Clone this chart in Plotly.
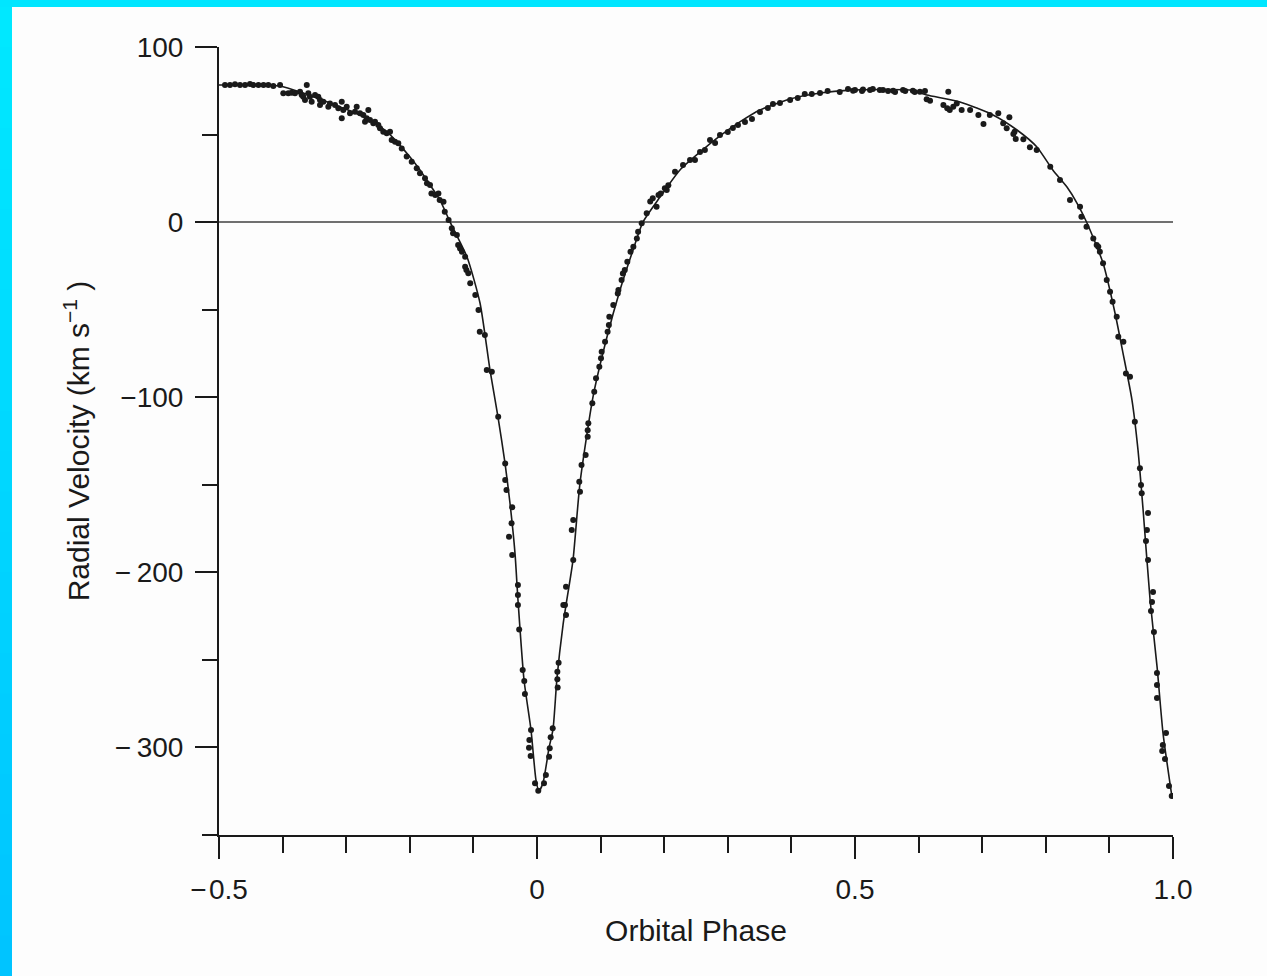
import plotly.graph_objects as go

# ---------------- data ----------------
x_tick_vals = [-0.5, 0.0, 0.5, 1.0]
x_tick_labels = ["\u2212\u200a0.5", "0", "0.5", "1.0"]
y_tick_vals = [100, 0, -100, -200, -300]
y_tick_labels = ["100", "0", "\u2212100", "\u2212\u2009200", "\u2212\u2009300"]

# fitted orbit curve
phase_fit = [-0.5, -0.451, -0.404, -0.368, -0.3255, -0.2893, -0.2626, -0.2358, -0.220,
             -0.1997, -0.184, -0.1682, -0.1525, -0.1368, -0.110, -0.0896, -0.0739,
             -0.0613, -0.0503, -0.0425, -0.0346, -0.0299, -0.0204, -0.0094, -0.0016,
             0.0031, 0.0094, 0.0189, 0.0252, 0.0314, 0.0409, 0.0456, 0.0566, 0.0676,
             0.088, 0.110, 0.1305, 0.151, 0.1667, 0.1934, 0.2248, 0.2563, 0.2877, 0.319,
             0.3506, 0.398, 0.445, 0.4921, 0.539, 0.5865, 0.613, 0.665, 0.717, 0.7547,
             0.786, 0.811, 0.8333, 0.849, 0.8648, 0.890, 0.9088, 0.9214, 0.9355, 0.945,
             0.953, 0.964, 0.975, 0.9843, 0.9984]
vel_fit = [78.3, 78.3, 77.7, 73.7, 68.0, 62.9, 58.3, 51.5, 45.7,
           37.2, 29.8, 21.2, 12.6, 0.1, -19.9, -46.2, -84.5,
           -111.3, -137.6, -160.4, -189.0, -215.8, -261.5, -290.1, -318.6,
           -324.9, -320.3, -300.3, -289.5, -260.4, -230.1, -218.7, -193.0, -149.0,
           -99.9, -65.6, -38.8, -15.9, 0.1, 14.3, 29.8, 40.0, 49.2, 57.2,
           64.0, 70.3, 73.7, 75.4, 75.7, 75.4, 72.6, 68.6, 61.2, 52.6,
           42.9, 29.8, 20.0, 10.9, -0.5, -23.4, -51.9, -74.8, -101.6, -130.2,
           -164.4, -215.8, -254.1, -291.8, -328.3]

# observed radial velocities
phase_obs = [
    # left plateau
    -0.4906, -0.4827, -0.4748, -0.467, -0.459, -0.4513, -0.446, -0.438, -0.430,
    -0.4225, -0.4146, -0.404,
    -0.3989, -0.391, -0.3857, -0.3805, -0.3726, -0.370, -0.3675, -0.362, -0.3648,
    -0.3596, -0.357, -0.3543, -0.349, -0.3439, -0.3412, -0.3412, -0.336, -0.3281,
    -0.3255, -0.3176, -0.3124, -0.307, -0.3046, -0.2992, -0.307, -0.294, -0.2862,
    -0.2835, -0.2783, -0.2731, -0.2704, -0.2678, -0.2652, -0.2626, -0.2574, -0.2547,
    -0.2495, -0.2469, -0.2417, -0.2363, -0.2311, -0.2285, -0.2233, -0.2181, -0.2127,
    -0.2049, -0.197, -0.1891, -0.184, -0.1761, -0.1682,
    # descending branch into the dip
    -0.173, -0.166, -0.160, -0.155, -0.153, -0.147, -0.145, -0.139, -0.134, -0.132,
    -0.126, -0.124, -0.121, -0.118, -0.113, -0.113, -0.111, -0.108, -0.105, -0.097,
    -0.092, -0.090, -0.082, -0.079, -0.071, -0.061, -0.050, -0.050, -0.048, -0.039,
    -0.040, -0.044, -0.039, -0.030, -0.030, -0.030,
    -0.028, -0.0225, -0.020, -0.019, -0.0094, -0.012, -0.0126, -0.010, -0.0031, 0.002,
    # rising branch
    0.011, 0.014, 0.019, 0.020, 0.0215, 0.0247, 0.0325, 0.032, 0.032, 0.034, 0.0456,
    0.044, 0.0414, 0.0456, 0.057, 0.0546, 0.057, 0.0676, 0.0665, 0.070, 0.0765,
    0.0797, 0.0797, 0.0807, 0.087, 0.090, 0.0928, 0.098, 0.1006, 0.1017, 0.107,
    0.111, 0.113, 0.1137, 0.120, 0.127, 0.128, 0.133, 0.135, 0.138, 0.142, 0.147,
    0.1515, 0.157, 0.159, 0.1646, 0.1725, 0.178, 0.182, 0.188, 0.191, 0.1945, 0.201,
    0.2065, 0.204, 0.217,
    # upper arch
    0.2296, 0.2406, 0.2484, 0.2563, 0.264, 0.272, 0.280, 0.2877, 0.300, 0.308,
    0.316, 0.327, 0.338, 0.3506, 0.363, 0.371, 0.382, 0.398, 0.410, 0.421, 0.432,
    0.445, 0.457, 0.476, 0.489, 0.497, 0.500, 0.511, 0.5126, 0.5236, 0.528, 0.539,
    0.544, 0.552, 0.560, 0.563, 0.5755, 0.579, 0.591, 0.594, 0.602, 0.610,
    0.6127, 0.618, 0.639, 0.645, 0.649, 0.6545, 0.660, 0.6467, 0.6677, 0.681,
    0.694, 0.702, 0.712, 0.7253, 0.733, 0.7427, 0.7385, 0.749, 0.7527, 0.7647,
    0.775, 0.7857, 0.751, 0.807, 0.8223, 0.838, 0.8538, 0.856, 0.864, 0.880, 0.885,
    # descending branch at right
    0.8747, 0.8825, 0.890, 0.8958, 0.901, 0.905, 0.9115, 0.914, 0.922, 0.926,
    0.9324, 0.940, 0.948, 0.9497, 0.9508,
    0.9607, 0.959, 0.9575, 0.9607, 0.9686, 0.967, 0.9654, 0.970, 0.9748, 0.9748,
    0.9748, 0.989, 0.984, 0.983, 0.9874, 0.9937, 0.998]
vel_obs = [
    78.3, 78.3, 78.7, 78.3, 78.3, 78.9, 78.3, 78.3, 78.3,
    78.3, 77.7, 78.3,
    73.6, 73.6, 73.9, 73.6, 74.5, 72.6, 71.6, 78.3, 69.7,
    73.6, 71.6, 68.8, 72.6, 71.6, 69.7, 66.9, 68.8, 65.9,
    67.8, 66.9, 65.0, 68.8, 64.0, 65.9, 59.3, 62.1, 63.0,
    65.9, 62.1, 61.2, 57.3, 59.3, 64.0, 58.3, 56.4, 57.3,
    55.5, 53.6, 51.6, 50.7, 51.6, 46.9, 45.9, 45.0, 42.1,
    37.4, 34.5, 30.7, 27.9, 25.0, 21.2,
    22.2, 16.4, 15.5, 16.4, 12.6, 11.6, 5.9, 1.2, -3.5, -6.4,
    -7.4, -13.1, -15.0, -16.9, -19.8, -25.5, -27.4, -29.2, -34.9, -41.6,
    -50.2, -62.6, -64.5, -84.5, -85.4, -111.1, -137.8, -147.3, -153.0, -162.9,
    -172.0, -179.7, -190.1, -207.3, -213.0, -218.7,
    -232.6, -255.8, -262.1, -269.5, -290.1, -295.8, -300.2, -304.9, -320.5, -324.7,
    -320.5, -315.8, -305.3, -300.5, -294.2, -289.1, -265.7, -261.1, -256.8, -251.6, -224.4,
    -218.7, -218.7, -208.2, -193.0, -175.8, -170.1, -154.0, -148.3, -138.7, -133.0,
    -122.6, -118.8, -114.9, -103.5, -96.9, -89.2, -82.6, -77.8, -74.0, -68.3,
    -62.6, -58.8, -54.0, -47.3, -40.7, -38.8, -33.1, -29.3, -27.4, -22.6, -16.9,
    -14.0, -9.3, -5.5, -0.7, 5.0, 11.7, 13.6, 8.8, 15.5, 16.4, 19.3,
    21.1, 18.3, 28.8,
    32.6, 35.5, 35.5, 40.0, 41.2, 46.9, 45.2, 49.7, 51.5, 53.7,
    55.5, 57.2, 58.9, 62.9, 65.2, 67.4, 68.0, 69.7, 70.9, 73.2, 73.2,
    73.7, 74.9, 74.3, 76.0, 75.0, 75.4, 74.9, 75.8, 75.4, 76.0, 75.4,
    75.4, 74.9, 75.0, 74.3, 75.4, 74.9, 75.0, 74.3, 74.5, 74.9,
    70.1, 69.3, 66.9, 65.0, 64.0, 65.9, 67.8, 74.5, 64.0, 64.0,
    61.2, 56.0, 61.2, 62.1, 56.4, 59.9, 53.6, 50.3, 47.5, 47.3,
    42.7, 41.2, 51.6, 31.6, 24.0, 12.6, 8.8, 3.1, -2.6, -13.1, -16.9,
    -9.3, -14.0, -23.5, -33.1, -39.7, -45.5, -54.0, -65.5, -68.3, -86.4,
    -88.3, -114.0, -140.6, -150.1, -154.9,
    -166.1, -175.8, -182.1, -193.0, -211.3, -217.0, -222.1, -234.1, -257.5, -264.4,
    -271.8, -291.8, -298.6, -302.1, -306.6, -322.0, -327.7]

x_title = "Orbital Phase"
y_title = "Radial Velocity (km s<sup>\u22121</sup> )"

# ---------------- figure ----------------
FONT = "Liberation Sans, Arial, Helvetica, sans-serif"
INK = "#1a1a1a"

fig = go.Figure()
fig.add_trace(go.Scatter(x=phase_fit, y=vel_fit, mode="lines",
                         line=dict(color=INK, width=1.6, shape="spline", smoothing=0.6),
                         hoverinfo="skip", showlegend=False))
fig.add_trace(go.Scatter(x=phase_obs, y=vel_obs, mode="markers",
                         marker=dict(color=INK, size=6, line=dict(width=0)),
                         showlegend=False))

axis_common = dict(
    ticks="outside", tickwidth=2, tickcolor=INK, ticklen=22,
    showline=True, linecolor=INK, linewidth=2, showgrid=False,
    tickfont=dict(family=FONT, size=28, color=INK),
)

fig.update_xaxes(
    range=[-0.5, 1.0], tickmode="array", tickvals=x_tick_vals, ticktext=x_tick_labels,
    zeroline=False, ticklabelstandoff=6,
    minor=dict(ticks="outside", dtick=0.1, tick0=0, ticklen=16, tickwidth=2,
               tickcolor=INK, showgrid=False),
    title=dict(text=x_title, font=dict(family=FONT, size=30, color=INK), standoff=16),
    **axis_common,
)
fig.update_yaxes(
    range=[-350, 100], tickmode="array", tickvals=y_tick_vals, ticktext=y_tick_labels,
    zeroline=True, zerolinecolor="#707070", zerolinewidth=1.6, ticklabelstandoff=6,
    minor=dict(ticks="outside", dtick=50, tick0=0, ticklen=15, tickwidth=2,
               tickcolor=INK, showgrid=False),
    title=dict(text=y_title, font=dict(family=FONT, size=30, color=INK), standoff=16),
    **axis_common,
)

# cyan frame (top strip and a vertical gradient strip on the left)
L, R, T, B = 219, 1173, 47, 835
W, H = 1267, 976
def px2x(p):
    return (p - L) / (R - L)
def py2y(p):
    return (B - p) / (B - T)

shapes = []
shapes.append(dict(type="rect", xref="paper", yref="paper",
                   x0=px2x(-5), x1=px2x(W + 5), y0=py2y(7), y1=py2y(-5),
                   fillcolor="#00E6FF", line=dict(width=0), layer="above"))
nb = 24
for i in range(nb):
    t = i / (nb - 1)
    g = int(round(232 - t * (232 - 196)))
    y_top = 7 + (H - 7) * i / nb
    y_bot = 7 + (H - 7) * (i + 1) / nb
    shapes.append(dict(type="rect", xref="paper", yref="paper",
                       x0=px2x(-5), x1=px2x(12), y0=py2y(y_bot + 1), y1=py2y(y_top),
                       fillcolor=f"rgb(0,{g},255)", line=dict(width=0), layer="above"))

fig.update_layout(
    width=W, height=H, autosize=False,
    margin=dict(l=L, r=W - R, t=T, b=H - B, pad=0),
    paper_bgcolor="#fdfdfd", plot_bgcolor="#fdfdfd",
    font=dict(family=FONT, color=INK),
    shapes=shapes,
)

fig.write_html("out.html")
